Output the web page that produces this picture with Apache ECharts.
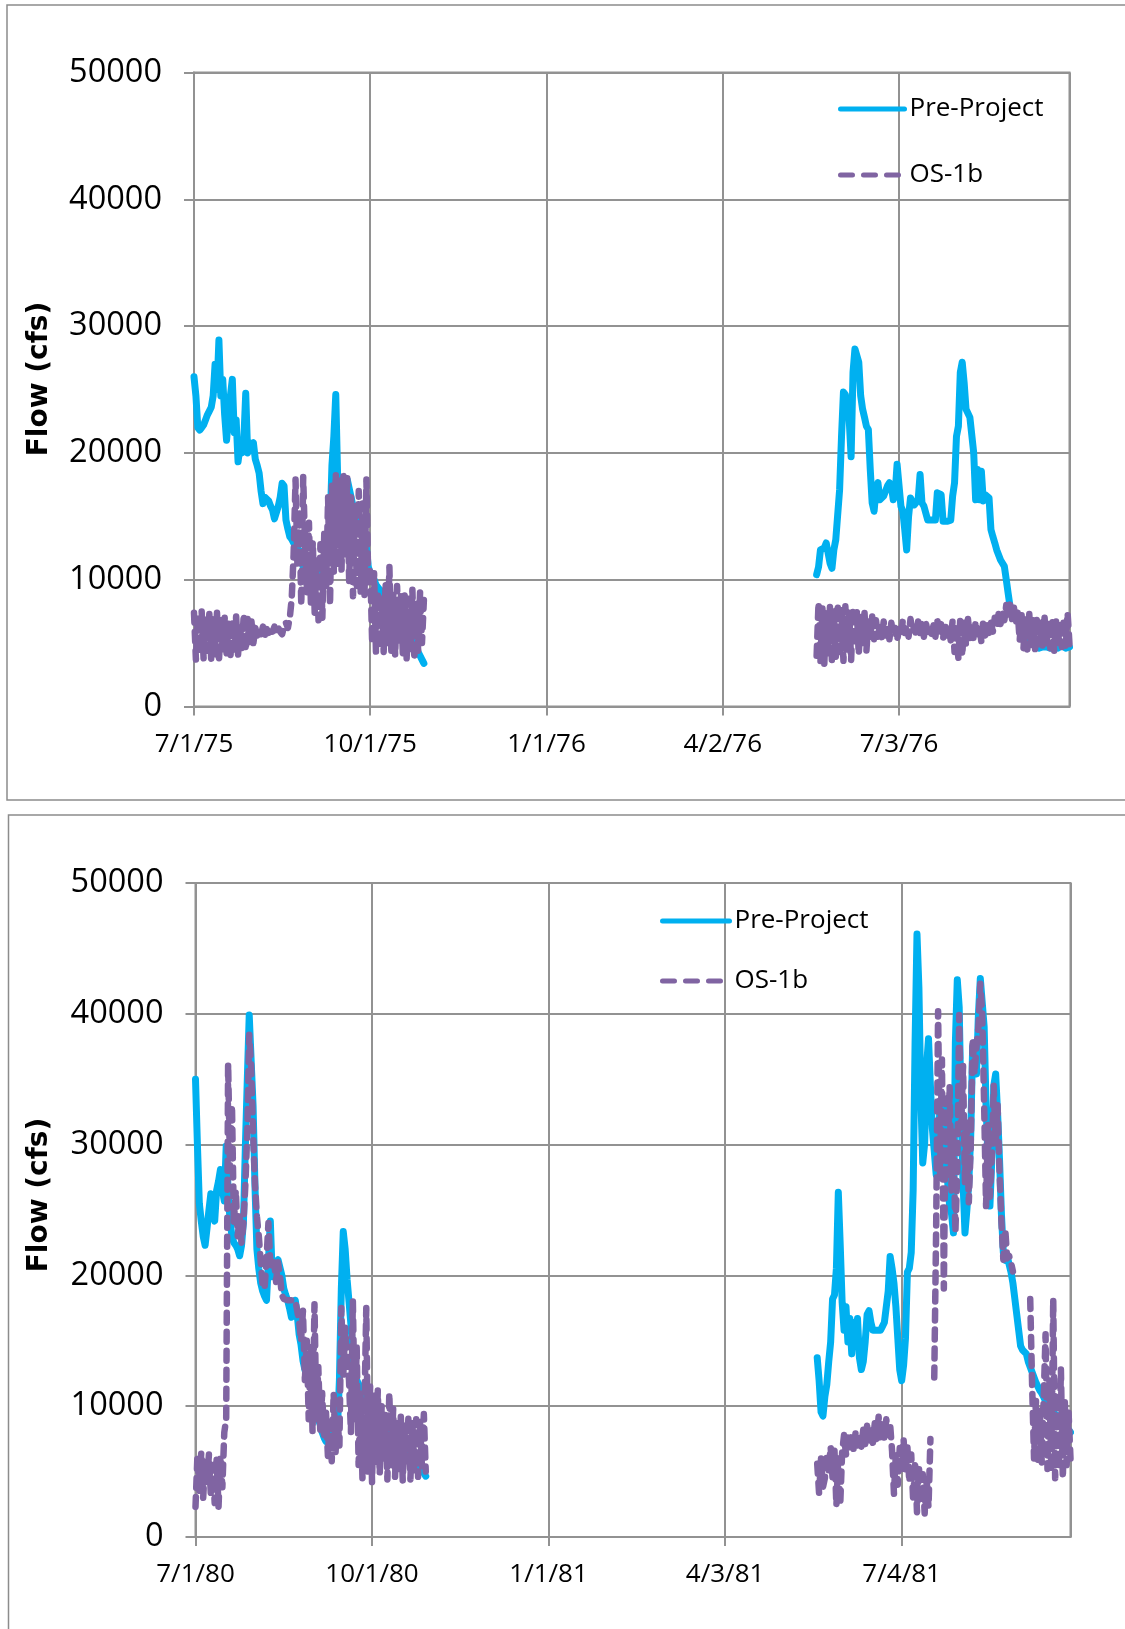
<!DOCTYPE html>
<html>
<head>
<meta charset="utf-8">
<script src="https://cdn.jsdelivr.net/npm/echarts@6/dist/echarts.min.js"></script>
<style>
  html, body { margin: 0; padding: 0; background: #fff; }
  #chart { width: 1125px; height: 1629px; }
</style>
</head>
<body>
<div id="chart"></div>
<script>
// Daily flow (cfs), one value per day from each segment's start date.
const seriesNames = ['Pre-Project', 'OS-1b'];

const topAxisStart = '1975-07-01';
const topAxisEnd = '1976-09-30';
const bottomAxisStart = '1980-07-01';
const bottomAxisEnd = '1981-09-30';

const topTickLabels = ['7/1/75', '10/1/75', '1/1/76', '4/2/76', '7/3/76'];
const bottomTickLabels = ['7/1/80', '10/1/80', '1/1/81', '4/3/81', '7/4/81'];
const tickStepDays = 92;

const flowMax = 50000;
const flowStep = 10000;

const start1975 = '1975-07-01';
const preProject1975 = [
  26000,24500,22000,21800,22000,22200,22600,23000,23300,23600,
  24500,27000,25000,28900,24500,25800,23000,21000,22900,24500,
  25800,21600,22600,19300,20500,20000,21000,24700,20000,20800,
  20600,20800,19500,19000,18400,17000,16000,16500,16600,16200,
  15800,15500,14800,14700,15800,16500,17600,17400,14700,14000,
  13400,13200,12900,12600,12500,12300,12100,11000,10200,9700,
  9800,10500,10600,10400,10300,10500,10200,10000,10300,11500,
  12500,14000,19000,21300,24600,18000,17900,14000,13500,15500,
  17900,17800,16500,15800,15000,15500,14500,14000,13800,13000,
  12500,11000,10500,10400,10000,9600,9400,9200,9000,8800,
  8600,8400,8200,8000,7800,7600,7400,7200,7000,6700,
  6400,6100,5800,5500,5200,4900,4600,4300,4000,3700,
  3400
];
const os1b1975 = [
  7400,3700,7200,4200,7500,3800,6900,4400,7300,3600,
  7000,4000,7400,3500,6800,4300,7000,4200,6600,3800,
  6800,4500,7100,4100,6500,4600,7300,4400,6900,4800,
  6700,5000,6200,5600,6100,5700,6300,5600,6100,5800,
  6200,5900,6300,5800,6200,5900,5700,6300,6600,6200,
  7000,8500,12000,17900,11000,15500,8000,18100,12500,9000,
  14500,8200,13000,7400,11500,6800,12800,7000,13700,9500,
  16500,8000,17400,10500,18400,11000,17800,10800,18200,12000,
  18000,9800,16500,8700,15800,9500,17000,9000,16000,8800,
  17900,9500,11000,5000,10500,4200,9000,4600,8500,4300,
  9800,5000,11000,4400,8800,4000,9500,5200,8700,4200,
  9000,3800,8500,4500,9200,3700,8300,4400,9000,5000,
  8400
];

const start1976 = '1976-05-21';
const preProject1976 = [
  10400,11000,12350,12500,12500,12900,12750,11300,10900,12350,
  13150,13300,17100,21300,24800,24600,23700,22650,19700,26350,
  28200,28200,27150,24500,23450,22800,22100,21850,18700,16050,
  15400,17100,17650,16300,16200,16600,17000,17400,17650,17400,
  16300,16850,19100,18950,15800,15400,13950,12350,15000,16450,
  16300,15900,16050,16300,18300,16050,15800,15900,14700,14600,
  14700,14600,14700,16850,16850,16700,14600,14600,14600,14600,
  14700,16600,17650,21300,22100,26350,27150,25550,23450,23450,
  22800,22650,20000,16300,18700,16300,18550,16200,16700,16600,
  16450,13950,13400,12900,12350,12200,11550,11550,11050,10000,
  8900,7850,7600,7300,7000,6800,6500,6200,5800,5500,
  5200,5100,5000,4900,4800,4700,4600,4600,4700,4800,
  4700,4600,4600,4700,4800,4700,4600,4700,4800,4700,
  4600,4700,4700
];
const os1b1976 = [
  4000,8200,3500,7900,3300,7600,4200,8000,3400,7500,
  3800,8100,4300,7700,3600,7900,4500,7400,3600,7800,
  4800,7500,4100,7200,5000,7400,4400,6900,5200,7100,
  5300,6800,5500,6500,5400,6700,5600,6300,5300,6600,
  5700,6200,5200,6100,5600,6800,5800,6400,5500,6900,
  5900,6300,5600,6700,5800,6500,5500,6600,5900,6200,
  5700,6400,5500,6800,5800,6500,5300,6600,5600,6200,
  5200,6800,4300,6500,3800,7000,4000,6600,4800,6900,
  5400,6500,5200,6700,5700,6300,5100,6800,5600,6400,
  5800,6600,5900,7000,6200,7300,6500,7600,6800,8000,
  7000,8100,6900,7800,6500,7400,5200,7200,4600,7000,
  4500,7300,4700,6800,4400,7100,4900,6600,4500,7000,
  4800,6500,4600,6900,4400,6700,5000,6400,4700,6900,
  4800,7400,4900
];

const start1980 = '1980-07-01';
const preProject1980 = [
  35000,30000,25500,24150,23000,22300,23600,25000,26250,25000,
  24150,26500,27200,28100,26500,25700,29900,26500,24150,23000,
  22500,22300,22000,21500,22300,24150,29900,35000,39900,40000,
  33000,26800,22000,20500,19400,18800,18400,18100,21000,24150,
  19900,20500,21000,21200,21250,20000,19000,18500,18100,17500,
  16800,17300,18100,17000,15500,14700,13500,12800,12300,12000,
  11500,11000,10200,9500,9000,8600,8000,7600,7300,7500,
  7800,8000,8200,8350,8400,12000,19000,23350,22000,19700,
  18000,16250,14000,12300,12000,11700,11500,11000,10300,9700,
  9700,9600,9800,9500,9700,9400,9600,9200,9000,8700,
  8400,8200,8000,7800,7500,7300,7100,6900,6700,6500,
  6300,6100,5900,5800,5700,5600,5500,5300,5100,4900,
  4650
];
const os1b1980 = [
  2300,6200,3500,6500,3000,5800,4200,6300,3200,5500,
  2600,5900,2300,6200,3800,8000,9000,36200,28000,33000,
  24000,26500,23000,24500,22500,24000,27000,31000,38400,36000,
  31000,27000,24500,23000,21000,19200,19000,21200,24000,21000,
  20500,21000,19500,21000,20000,18500,18200,18100,18100,18100,
  18100,18100,18100,18100,16500,15000,17300,12000,15000,9000,
  14500,8000,17800,9000,13000,8200,11000,7500,9500,6200,
  8800,5800,11000,6500,9000,7000,17500,12300,16000,13500,
  12000,8000,18100,9000,14500,5500,11000,4500,9500,17500,
  5000,11500,4200,10800,5600,11200,4800,10000,6000,9500,
  4400,11000,5500,9800,4600,8800,5200,9200,4300,8500,
  5800,9300,4400,8700,5100,9000,4600,8800,5400,9400,
  5000
];

const start1981 = '1981-05-21';
const preProject1981 = [
  13700,11950,9550,9250,10750,11650,13400,14900,18200,18500,
  20550,26350,22300,17900,15800,17600,14900,16700,14000,16400,
  15200,16700,13700,12800,13400,14900,17000,17300,16400,15800,
  15800,15800,15800,15800,16100,16400,16400,18800,21450,20550,
  19400,17600,15200,12800,11950,13100,15200,20250,20550,21750,
  26500,37800,46100,42000,33650,28600,30100,36000,38100,34500,
  31250,29500,27700,29500,33000,31250,33000,28900,27100,25300,
  24700,23250,37800,42600,40500,32450,27100,23250,25000,27100,
  30650,37500,37800,35400,39900,42700,42600,39000,33000,28900,
  25300,28900,34500,35400,32450,28900,24700,21750,21150,21450,
  21450,20250,19400,18200,17000,15800,14600,14300,14300,14000,
  13400,13000,12600,12200,11800,11500,11200,11000,10700,10400,
  10100,9800,9600,9500,9400,9300,9200,9000,8800,8600,
  8400,8200,8000
];
const os1b1981 = [
  5600,3300,6000,3800,4500,6300,5000,6900,4500,6600,
  2400,6000,2500,6500,7800,6300,7600,6800,7900,6600,
  8000,7000,7800,6900,8200,7100,8500,7300,8300,7200,
  8700,7500,9200,7400,8800,7600,9000,7800,8600,6600,
  3300,6400,4000,6800,5200,7500,5000,6900,4200,6300,
  2800,5800,1900,5400,2600,4800,1800,4400,2300,7500,
  null,12200,23800,40200,27500,36500,19000,33500,27700,34500,
  26500,31000,23300,28000,39900,31300,36000,27100,31900,25600,
  29800,38100,35400,37500,39000,42300,40000,33000,25300,31500,
  26000,29000,34500,30100,33000,28000,24100,21200,23500,21300,
  21500,21000,20300,null,null,null,null,null,null,null,
  null,18200,11600,6000,10400,5600,9800,5700,10400,15500,
  5200,12000,5000,18200,4500,11000,5200,12800,4500,10500,
  5500,9500,6000
];

const CYAN = '#00B0F0';
const PURPLE = '#8064A2';
const GRID_GRAY = '#929292';
const FRAME_GRAY = '#8c8c8c';
const LABEL_FONT = 'Open Sans';
const TITLE_FONT = 'DejaVu Sans';

const MS_PER_DAY = 86400000;
function daysBetween(a, b) {
  return Math.round((Date.parse(b) - Date.parse(a)) / MS_PER_DAY);
}

// Turn dated segments into [dayOffset, flow] points, with a break between segments.
function buildPoints(axisStart, segments) {
  const pts = [];
  segments.forEach(([segStart, values], s) => {
    const off = daysBetween(axisStart, segStart);
    if (s > 0) pts.push([off - 1, null]);
    values.forEach((v, i) => pts.push([off + i, v]));
  });
  return pts;
}

const topPre = buildPoints(topAxisStart, [[start1975, preProject1975], [start1976, preProject1976]]);
const topOs = buildPoints(topAxisStart, [[start1975, os1b1975], [start1976, os1b1976]]);
const botPre = buildPoints(bottomAxisStart, [[start1980, preProject1980], [start1981, preProject1981]]);
const botOs = buildPoints(bottomAxisStart, [[start1980, os1b1980], [start1981, os1b1981]]);

const topMaxDay = daysBetween(topAxisStart, topAxisEnd);
const botMaxDay = daysBetween(bottomAxisStart, bottomAxisEnd);

function xAxisFor(gridIndex, maxDay, labels) {
  return {
    type: 'value', gridIndex, min: 0, max: maxDay, interval: tickStepDays,
    axisLine: { show: true, onZero: false, lineStyle: { color: GRID_GRAY, width: 2 } },
    axisTick: { show: true, length: 9, lineStyle: { color: GRID_GRAY, width: 2 } },
    axisLabel: {
      margin: 25, fontFamily: LABEL_FONT, fontSize: 26, color: '#000', showMaxLabel: false,
      formatter: v => {
        const k = v / tickStepDays;
        return Number.isInteger(k) && labels[k] ? labels[k] : '';
      }
    },
    splitLine: { show: true, lineStyle: { color: GRID_GRAY, width: 2 } }
  };
}

function yAxisFor(gridIndex) {
  return {
    type: 'value', gridIndex, min: 0, max: flowMax, interval: flowStep,
    axisLine: { show: true, onZero: false, lineStyle: { color: GRID_GRAY, width: 2 } },
    axisTick: { show: true, length: 10, lineStyle: { color: GRID_GRAY, width: 2 } },
    axisLabel: {
      margin: 32, fontFamily: LABEL_FONT, fontSize: 32.5, color: '#000',
      formatter: v => String(v)
    },
    splitLine: { show: true, lineStyle: { color: GRID_GRAY, width: 2 } }
  };
}

function preSeries(idx, data) {
  return {
    type: 'line', name: seriesNames[0], xAxisIndex: idx, yAxisIndex: idx, data,
    symbol: 'none', showSymbol: false, connectNulls: false, silent: true, z: 2,
    lineStyle: { color: CYAN, width: 7, cap: 'round', join: 'round' },
    itemStyle: { color: CYAN }
  };
}
function osSeries(idx, data) {
  return {
    type: 'line', name: seriesNames[1], xAxisIndex: idx, yAxisIndex: idx, data,
    symbol: 'none', showSymbol: false, connectNulls: false, silent: true, z: 3,
    lineStyle: { color: PURPLE, width: 6.5, type: [10, 9], cap: 'round', join: 'round' },
    itemStyle: { color: PURPLE }
  };
}

// Legend keys: plain line samples (no marker), dashes drawn longer for OS-1b.
function legendAt(left, top, gap, width) {
  return {
    orient: 'vertical', left, top, padding: 0, itemGap: gap,
    itemWidth: width, itemHeight: 26, selectedMode: false,
    itemStyle: { color: 'rgba(0,0,0,0)', borderWidth: 0, opacity: 0 },
    lineStyle: { width: 5, cap: 'round' },
    data: [
      { name: seriesNames[0], lineStyle: { type: 'solid' } },
      { name: seriesNames[1], lineStyle: { type: [12, 11] } }
    ],
    textStyle: { fontFamily: LABEL_FONT, fontSize: 26, color: '#000' }
  };
}

function axisTitle(x, y) {
  return {
    type: 'text', x, y, rotation: Math.PI / 2, silent: true,
    style: {
      text: 'Flow (cfs)', fontFamily: TITLE_FONT, fontWeight: 'bold', fontSize: 28,
      fill: '#000', align: 'center', verticalAlign: 'middle',
      textAlign: 'center', textVerticalAlign: 'middle'
    }
  };
}

const chart = echarts.init(document.getElementById('chart'), null, { renderer: 'canvas' });
chart.setOption({
  animation: false,
  backgroundColor: '#fff',
  grid: [
    { left: 194, top: 72.5, width: 875.5, height: 634, show: true, borderColor: GRID_GRAY, borderWidth: 2, containLabel: false, outerBoundsMode: 'none' },
    { left: 195.5, top: 883, width: 875, height: 654, show: true, borderColor: GRID_GRAY, borderWidth: 2, containLabel: false, outerBoundsMode: 'none' }
  ],
  xAxis: [xAxisFor(0, topMaxDay, topTickLabels), xAxisFor(1, botMaxDay, bottomTickLabels)],
  yAxis: [yAxisFor(0), yAxisFor(1)],
  legend: [legendAt(838, 96, 40, 64), legendAt(660, 908, 34, 67)],
  series: [preSeries(0, topPre), osSeries(0, topOs), preSeries(1, botPre), osSeries(1, botOs)],
  graphic: [
    { type: 'rect', silent: true, z: -10, shape: { x: 7, y: 5, width: 1140, height: 795 }, style: { fill: 'none', stroke: FRAME_GRAY, lineWidth: 1.5 } },
    { type: 'rect', silent: true, z: -10, shape: { x: 8.5, y: 815, width: 1140, height: 840 }, style: { fill: 'none', stroke: FRAME_GRAY, lineWidth: 1.5 } },
    axisTitle(40, 379),
    axisTitle(40, 1195)
  ]
});
</script>
</body>
</html>
